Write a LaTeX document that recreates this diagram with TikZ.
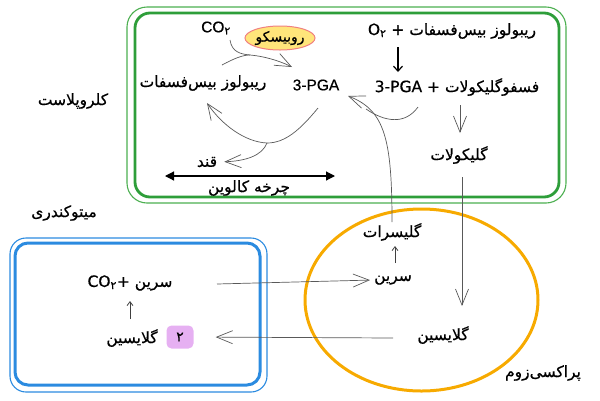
\documentclass[tikz,border=0pt]{standalone}
\usepackage{fontspec}
\setmainfont[FakeBold=0.5]{Liberation Sans}
\newfontfamily\fa[Script=Arabic,FakeBold=0.6]{DejaVu Sans}
\TeXXeTstate=1
\usetikzlibrary{arrows.meta,shapes.geometric}
\definecolor{chlgreen}{HTML}{2E9E3A}
\definecolor{chlgreenl}{HTML}{4CAF50}
\definecolor{mitoblue}{HTML}{2B8BE0}
\definecolor{peroxorange}{HTML}{F7AA00}
\definecolor{rubfill}{HTML}{FFE57A}
\definecolor{rubline}{HTML}{F08080}
\definecolor{badgefill}{HTML}{E6B0F2}
\newcommand{\fatxt}[1]{{\fa\beginR #1\endR}}
\newcommand{\two}{\textsubscript{\fa ۲}}

\begin{document}
\begin{tikzpicture}[x=1pt,y=-1pt,
    lbl/.style={font=\fontsize{15.5}{18}\selectfont, inner sep=1pt},
    sketch/.style={draw=black!65, line width=0.7pt,
      -{Straight Barb[length=16pt,width=13pt,line width=0.7pt]}},
    sketchline/.style={draw=black!65, line width=0.7pt},
    smallarr/.style={draw=black!75, line width=0.8pt,
      -{Straight Barb[length=4pt,width=6pt]}}]
  \useasboundingbox (0,0) rectangle (600,400);
  % chloroplast
  \draw[chlgreenl, line width=1.1pt, rounded corners=20pt] (127,7) rectangle (566,203);
  \draw[chlgreen, line width=2.8pt, rounded corners=15pt] (135,13) rectangle (559,197);
  % mitochondrion
  \draw[mitoblue, line width=1.1pt, rounded corners=16pt] (10,238) rectangle (267,392);
  \draw[mitoblue, line width=3pt, rounded corners=13pt] (15,243) rectangle (260,385);
  % peroxisome
  \draw[peroxorange, line width=3pt] (421.5,300) ellipse [x radius=116.5, y radius=91];
  %
  \node[lbl] (chl) at (73,101) {\fatxt{کلروپلاست}};
  \node[lbl] (mito) at (64,213) {\fatxt{میتوکندری}};
  \node[lbl] (perox) at (543,373) {\fatxt{پراکسی‌زوم}};
  % chloroplast nodes
  \node[lbl] (co2) at (216,28) {CO\two};
  \node[draw=rubline, fill=rubfill, line width=1pt, ellipse, minimum width=70pt,
    minimum height=24pt, inner sep=0pt, font=\fontsize{14}{16}\selectfont]
    (rubisco) at (280,38) {\fatxt{روبیسکو}};
  \node[lbl] (rubp) at (203,83) {\fatxt{ریبولوز بیس‌فسفات}};
  \node[lbl] (pga) at (316,85) {3-PGA};
  \node[lbl] (rubpo) at (452,31) {\fatxt{ریبولوز بیس‌فسفات + \beginL O\two\endL}};
  \node[lbl] (pgly) at (457,87) {\fatxt{فسفوگلیکولات + \beginL 3-PGA\endL}};
  \node[lbl] (glyc) at (459,155) {\fatxt{گلیکولات}};
  \node[lbl] (sugar) at (207,162) {\fatxt{قند}};
  \node[lbl] (calvin) at (249,188) {\fatxt{چرخه کالوین}};
  \coordinate (cl) at (165,176);
  \coordinate (cr) at (335,176);
  \coordinate (co2out) at (230,40);
  \coordinate (rubpout) at (222,65);
  \coordinate (fix) at (250,55);
  \coordinate (pgafix) at (292,67);
  \coordinate (calvtop) at (318,108);
  \coordinate (cbot) at (267,143);
  \coordinate (rubpin) at (207,103);
  \coordinate (pgain) at (348,96);
  \coordinate (pglyout) at (418,107);
  \coordinate (pglyjoin) at (366,109);
  \coordinate (o2a) at (398,47);
  \coordinate (o2b) at (398,72);
  \coordinate (glyca) at (460,105);
  \coordinate (glycb) at (460,133);
  % peroxisome nodes
  \node[lbl] (glis) at (392,232) {\fatxt{گلیسرات}};
  \node[lbl] (serp) at (393,280) {\fatxt{سرین}};
  \node[lbl] (glyp) at (443,335) {\fatxt{گلایسین}};
  \coordinate (glycout) at (462,177);
  \coordinate (glyin) at (462,306);
  \coordinate (glisout) at (392,222);
  \coordinate (serpup) at (395,263);
  \coordinate (glisdn) at (395,246);
  % mitochondrion nodes
  \node[lbl] (serm) at (130,283) {\fatxt{سرین +\beginL CO\two\endL}};
  \node[lbl] (glym) at (132,338) {\fatxt{گلایسین}};
  \node[fill=badgefill, rounded corners=5pt, minimum width=27pt, minimum height=23pt,
    inner sep=0pt, font=\fontsize{14}{16}\selectfont] (badge) at (180,337) {\fa ۲};
  \coordinate (sermout) at (217,284);
  \coordinate (glypout) at (393,338);
  \coordinate (glymup) at (130,319);
  \coordinate (sermdn) at (130,301);
  % rubisco step
  \draw[sketchline] (co2out) .. controls (232,52) and (240,54) .. (fix);
  \draw[sketch] (rubpout) .. controls (235,58) and (243,55) .. (fix)
    .. controls (262,56) and (278,60) .. (pgafix);
  % calvin cycle
  \draw[sketchline] (calvtop) .. controls (300,130) and (285,143) .. (cbot);
  \draw[sketch] (cbot) .. controls (245,142) and (222,125) .. (rubpin);
  \draw[sketch, shorten >=6pt] (cbot) .. controls (262,156) and (245,161) .. (sugar.east);
  \draw[{Triangle[length=9pt,width=9pt]}-{Triangle[length=9pt,width=9pt]}, line width=1.2pt]
    (cl) -- (cr);
  % oxygenation
  \draw[line width=1.2pt, -{Straight Barb[length=5pt,width=9pt]}] (o2a) -- (o2b);
  \draw[sketch] (glyca) -- (glycb);
  \draw[sketchline] (pglyout) .. controls (405,125) and (385,122) .. (pglyjoin);
  \draw[sketch] (glisout) .. controls (392,140) and (385,110) .. (pgain);
  \draw[sketch] (glycout) -- (glyin);
  % peroxisome / mitochondrion
  \draw[smallarr] (serpup) -- (glisdn);
  \draw[sketch, shorten >=3pt] (sermout) -- (serp.west);
  \draw[sketch, shorten >=22pt] (glypout) -- (badge.east);
  \draw[smallarr] (glymup) -- (sermdn);
\end{tikzpicture}
\end{document}
